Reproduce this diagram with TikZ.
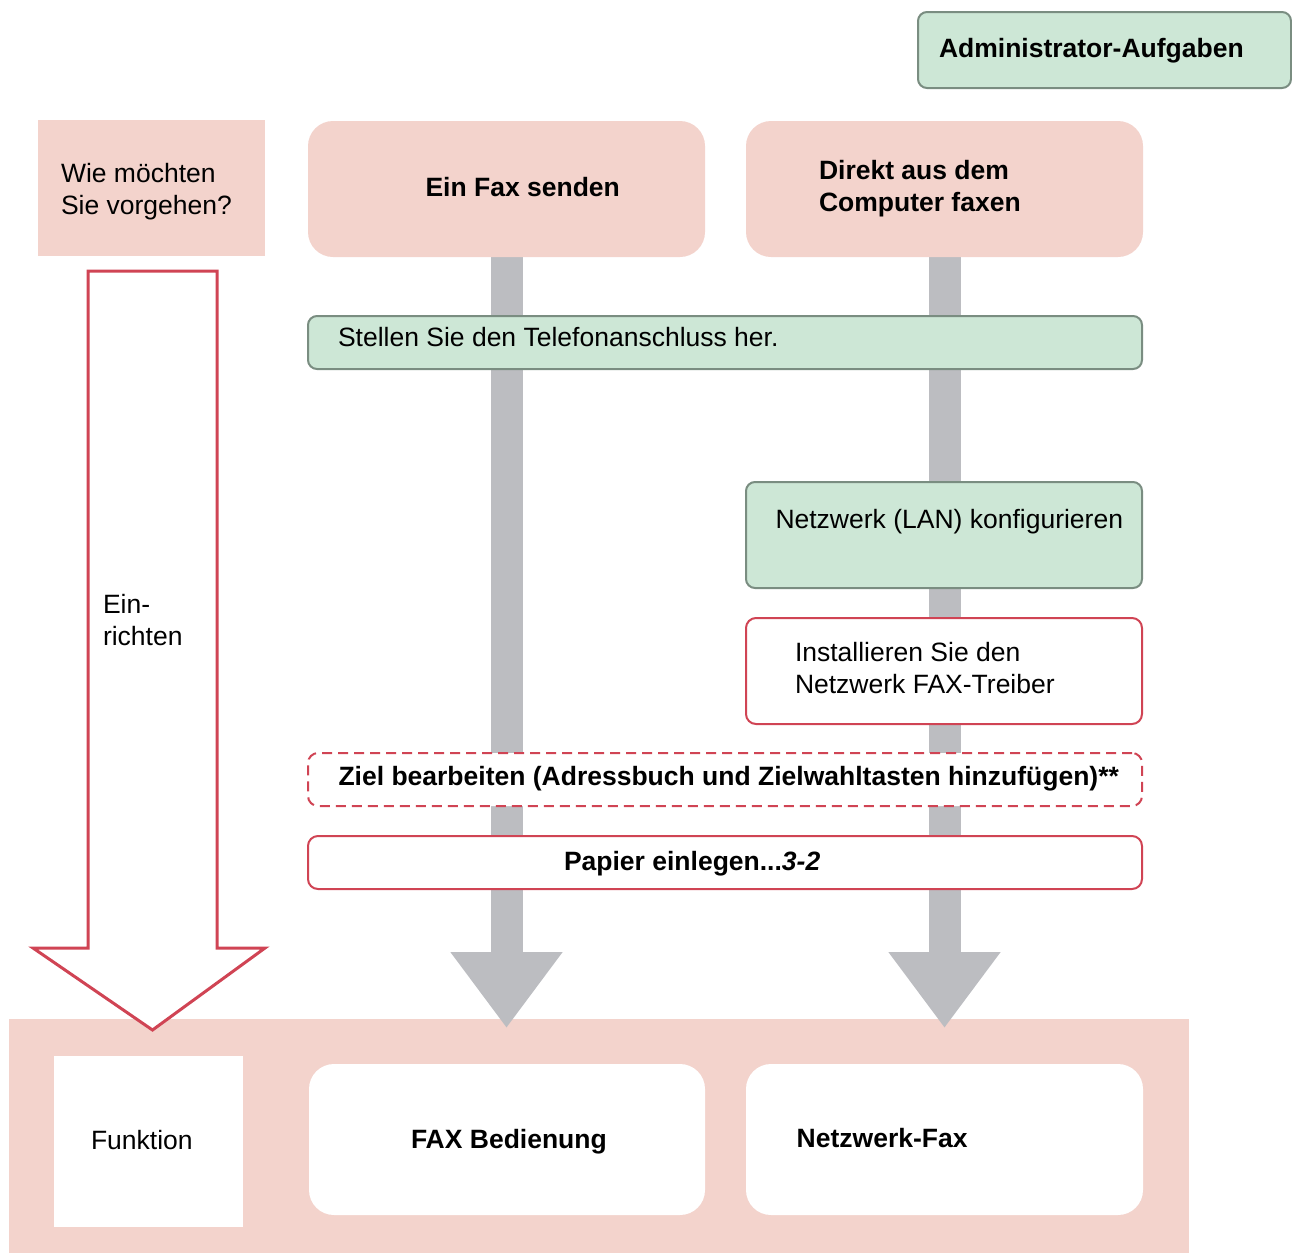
\documentclass[tikz,border=0pt]{standalone}
\usepackage{fontspec}
\setmainfont{Liberation Sans}
\usetikzlibrary{positioning,arrows.meta,backgrounds}
\definecolor{rosa}{RGB}{243,211,204}
\definecolor{gruen}{RGB}{205,231,214}
\definecolor{gruenrand}{RGB}{122,141,129}
\definecolor{rot}{RGB}{208,68,84}
\definecolor{grau}{RGB}{188,189,193}

\begin{document}
\begin{tikzpicture}[x=1pt, y=-1pt,
	every node/.style={inner sep=0pt, outer sep=0pt, font=\fontsize{26.5}{32}\selectfont},
	kasten/.style 2 args={anchor=north west, minimum width=#1, minimum height=#2},
	rosafeld/.style={fill=rosa, rounded corners=25pt},
	gruenfeld/.style={fill=gruen, draw=gruenrand, line width=2pt, rounded corners=9pt},
	rotfeld/.style={fill=white, draw=rot, line width=2pt, rounded corners=10pt},
	weissfeld/.style={fill=white, rounded corners=25pt},
	txt/.style={anchor=base west, align=left},
	fett/.style={font=\fontsize{26.5}{32}\selectfont\bfseries},
	balken/.style={draw=grau, line width=32pt, -{Triangle[width=107pt, length=76pt]}}]
	\useasboundingbox (0,0) rectangle (1292,1253);
	% Kaesten
	\node [kasten={373}{76}, gruenfeld] (admin) at (918,12) {};
	\node [kasten={227}{136}, fill=rosa] (frage) at (38,120) {};
	\node [kasten={397}{136}, rosafeld] (fax) at (308,121) {};
	\node [kasten={397}{136}, rosafeld] (direkt) at (746,121) {};
	\node [kasten={834}{53}, gruenfeld] (telefon) at (308,316) {};
	\node [kasten={396}{106}, gruenfeld] (lan) at (746,482) {};
	\node [kasten={396}{106}, rotfeld] (treiber) at (746,618) {};
	\node [kasten={834}{53}, rotfeld, dash pattern=on 10pt off 6pt] (ziel) at (308,753) {};
	\node [kasten={834}{53}, rotfeld] (papier) at (308,836) {};
	% Funktion
	\node [kasten={189}{171}, fill=white] (funktion) at (54,1056) {};
	\node [kasten={396}{151}, weissfeld] (bedienung) at (309,1064) {};
	\node [kasten={397}{151}, weissfeld] (netzfax) at (746,1064) {};
	% Hintergrund und Balken
	\begin{scope}[on background layer]
		\node [kasten={1180}{234}, fill=rosa] (band) at (9,1019) {};
		\coordinate (spitze) at (0,1028);
		\draw [balken] (fax.south) -- (fax.south |- spitze);
		\draw [balken] (direkt.south) -- (direkt.south |- spitze);
	\end{scope}
	% Pfeil Einrichten
	\draw [rot, line width=3pt, fill=white] (88,271) -- (217,271) -- (217,948) -- (265,948)
		-- (152.5,1030) -- (33,948) -- (88,948) -- cycle;
	% Texte (mehrzeilig: Grundlinie der letzten Zeile)
	\node [txt, fett] (admintext) at (939,57.3) {Administrator-Aufgaben};
	\node [txt] (fragetext) at (61,214.7) {Wie möchten\\Sie vorgehen?};
	\node [txt, fett] (faxtext) at (425.5,196.7) {Ein Fax senden};
	\node [txt, fett] (direkttext) at (819,211) {Direkt aus dem\\Computer faxen};
	\node [txt] (telefontext) at (338,346.7) {Stellen Sie den Telefonanschluss her.};
	\node [txt] (lantext) at (775.5,528.7) {Netzwerk (LAN) konfigurieren};
	\node [txt] (treibertext) at (795,693) {Installieren Sie den\\Netzwerk FAX-Treiber};
	\node [txt, fett] (zieltext) at (338.5,785) {Ziel bearbeiten (Adressbuch und Zielwahltasten hinzufügen)**};
	\node [txt, fett] (papiertext) at (564,870.7) {Papier einlegen...\textit{3-2}};
	\node [txt] (einrichtentext) at (103,645) {Ein-\\richten};
	\node [txt] (funktiontext) at (91,1149) {Funktion};
	\node [txt, fett] (bedienungtext) at (411,1148) {FAX Bedienung};
	\node [txt, fett] (netzfaxtext) at (796.7,1147.7) {Netzwerk-Fax};
\end{tikzpicture}
\end{document}
